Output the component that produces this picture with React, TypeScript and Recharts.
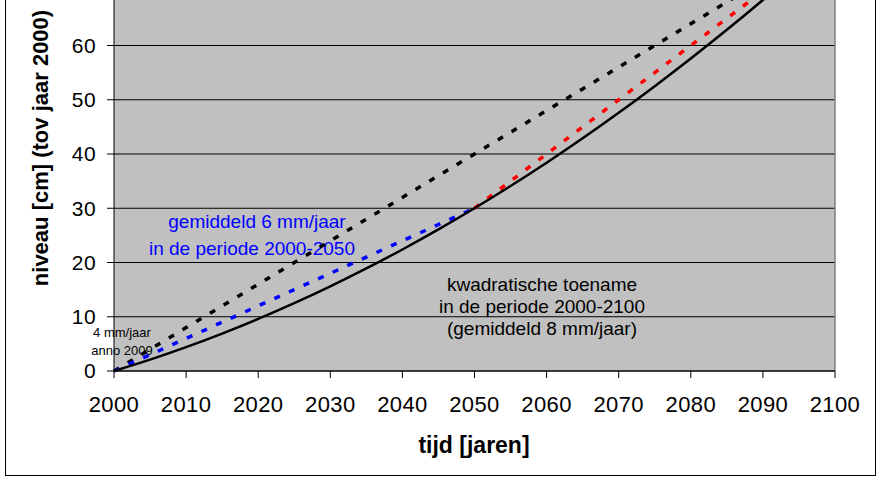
import React from "react";
import {
  LineChart,
  Line,
  XAxis,
  YAxis,
  CartesianGrid,
  ReferenceLine,
} from "recharts";

// jaartallen (elke 5 jaar)
const jaren = [
  2000, 2005, 2010, 2015, 2020, 2025, 2030, 2035, 2040, 2045, 2050, 2055, 2060,
  2065, 2070, 2075, 2080, 2085, 2090, 2095, 2100,
];

// kwadratische toename 2000-2100 (gemiddeld 8 mm/jaar)
const kwadratisch = [
  0, 2.1, 4.4, 6.9, 9.6, 12.5, 15.6, 18.9, 22.4, 26.1, 30, 34.1, 38.4, 42.9,
  47.6, 52.5, 57.6, 62.9, 68.4, 74.1, 80,
];

// lineair 8 mm/jaar
const lineair8 = [
  0, 4, 8, 12, 16, 20, 24, 28, 32, 36, 40, 44, 48, 52, 56, 60, 64, 68, 72, 76,
  80,
];

// gemiddeld 6 mm/jaar in de periode 2000-2050
const periode2050 = [
  0, 3, 6, 9, 12, 15, 18, 21, 24, 27, 30, null, null, null, null, null, null,
  null, null, null, null,
];

// 10 mm/jaar in de periode 2050-2100
const periode2100 = [
  null, null, null, null, null, null, null, null, null, null, 30, 35, 40, 45,
  50, 55, 60, 65, 70, 75, 80,
];

const xTicks = [2000, 2010, 2020, 2030, 2040, 2050, 2060, 2070, 2080, 2090, 2100];
// only the ticks that are inside the window
const yTicks = [0, 10, 20, 30, 40, 50, 60];

const data = jaren.map((jaar, i) => ({
  jaar,
  kwadratisch: kwadratisch[i],
  lineair8: lineair8[i],
  periode2050: periode2050[i],
  periode2100: periode2100[i],
}));

const FONT = "'Liberation Sans', Arial, sans-serif";
const W = 885;
const H = 565;
const SHIFT = 80; // top of the chart sits above the window

export default function App() {
  return (
    <div
      style={{
        position: "absolute",
        left: 0,
        top: -SHIFT,
        width: W,
        height: H,
        background: "#fff",
        fontFamily: FONT,
      }}
    >
      <div
        style={{
          position: "absolute",
          left: 5,
          top: 10,
          width: 869,
          height: 544,
          border: "1.5px solid #000",
        }}
      />
      <LineChart
        width={W}
        height={H}
        data={data}
        margin={{ top: 17, right: 50, left: 34, bottom: 54 }}
        style={{ position: "absolute", left: 0, top: 0 }}
      >
        <CartesianGrid
          vertical={false}
          stroke="#000"
          strokeWidth={1}
          fill="#c0c0c0"
          fillOpacity={1}
        />
        <XAxis
          dataKey="jaar"
          type="number"
          domain={[2000, 2100]}
          ticks={xTicks}
          tick={{ fill: "#000", fontSize: 22, fontFamily: FONT, letterSpacing: 0.4 }}
          tickSize={7}
          tickMargin={18}
          stroke="#000"
          height={60}
        />
        <YAxis
          type="number"
          domain={[0, 80]}
          ticks={yTicks}
          tick={{ fill: "#000", fontSize: 21, fontFamily: FONT, letterSpacing: 0.4 }}
          tickSize={7}
          tickMargin={11}
          stroke="#000"
          width={80}
        />
        <ReferenceLine x={2100} stroke="#808080" strokeWidth={1.5} />
        <Line
          dataKey="lineair8"
          stroke="#000"
          strokeWidth={3.5}
          strokeDasharray="6 10"
          dot={false}
          type="linear"
          isAnimationActive={false}
        />
        <Line
          dataKey="periode2050"
          stroke="#0000ff"
          strokeWidth={3.5}
          strokeDasharray="6 10"
          dot={false}
          type="linear"
          connectNulls={false}
          isAnimationActive={false}
        />
        <Line
          dataKey="periode2100"
          stroke="#ff0000"
          strokeWidth={3.5}
          strokeDasharray="6 10"
          dot={false}
          type="linear"
          connectNulls={false}
          isAnimationActive={false}
        />
        <Line
          dataKey="kwadratisch"
          stroke="#000"
          strokeWidth={2.5}
          dot={false}
          type="monotone"
          isAnimationActive={false}
        />
        <text
          x={40}
          y={148 + SHIFT}
          transform={`rotate(-90, 40, ${148 + SHIFT})`}
          textAnchor="middle"
          dominantBaseline="central"
          fontFamily={FONT}
          fontWeight="bold"
          fontSize={22}
          fill="#000"
        >
          niveau [cm] (tov jaar 2000)
        </text>
        <text
          x={474}
          y={453 + SHIFT}
          textAnchor="middle"
          fontFamily={FONT}
          fontWeight="bold"
          fontSize={23}
          fill="#000"
        >
          tijd [jaren]
        </text>
        <text textAnchor="middle" fontFamily={FONT} fontSize={19} fill="#0000ff">
          <tspan x={257} y={228 + SHIFT}>gemiddeld 6 mm/jaar</tspan>
          <tspan x={252} y={255 + SHIFT}>in de periode 2000-2050</tspan>
        </text>
        <text textAnchor="middle" fontFamily={FONT} fontSize={19} fill="#000">
          <tspan x={542} y={291 + SHIFT}>kwadratische toename</tspan>
          <tspan x={542} y={313 + SHIFT}>in de periode 2000-2100</tspan>
          <tspan x={542} y={335 + SHIFT}>(gemiddeld 8 mm/jaar)</tspan>
        </text>
        <text textAnchor="middle" fontFamily={FONT} fontSize={13} fill="#000">
          <tspan x={122} y={337 + SHIFT}>4 mm/jaar</tspan>
          <tspan x={122} y={355 + SHIFT}>anno 2009</tspan>
        </text>
      </LineChart>
    </div>
  );
}
